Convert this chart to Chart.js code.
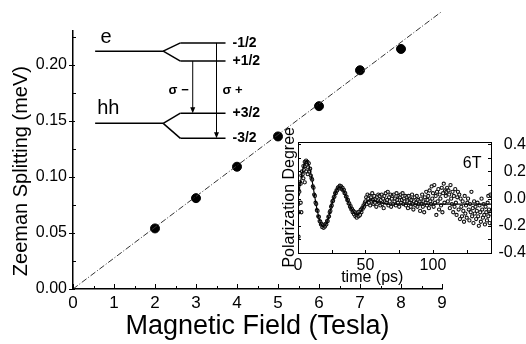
<!DOCTYPE html>
<html>
<head>
<meta charset="utf-8">
<script src="https://cdn.jsdelivr.net/npm/chart.js@4.4.0/dist/chart.umd.min.js"></script>
<style>
  html, body { margin: 0; padding: 0; background: #fff; }
  #wrap { position: relative; width: 526px; height: 344px; }
  #main { position: absolute; left: 0; top: 0; }
  #inset { position: absolute; left: 278px; top: 128px; }
</style>
</head>
<body>
<div id="wrap">
  <canvas id="main" width="526" height="344"></canvas>
  <canvas id="inset" width="248" height="162"></canvas>
</div>
<script>
// main plot: Zeeman splitting vs field
const fieldT = [2, 3, 4, 5, 6, 7, 8];
const splitMeV = [0.054, 0.081, 0.109, 0.136, 0.163, 0.195, 0.214];
const guideField = [0, 9];
const guideSplit = [0, 0.2475];

// inset: polarization degree vs time at 6T
const fitTime = [0, 1, 2, 3, 4, 5, 6, 7, 8, 9, 10, 11, 12, 13, 14, 15, 16, 17, 18, 19,
  20, 21, 22, 23, 24, 25, 26, 27, 28, 29, 30, 31, 32, 33, 34, 35, 36, 37, 38, 39,
  40, 41, 42, 43, 44, 45, 46, 47, 48, 49, 50, 51, 52, 54, 56, 58, 60, 63, 67, 143];
const fitPol = [0.02, 0.07, 0.13, 0.19, 0.235, 0.265, 0.278, 0.272, 0.25, 0.21,
  0.16, 0.1, 0.04, -0.02, -0.075, -0.12, -0.16, -0.185, -0.2, -0.205,
  -0.2, -0.185, -0.16, -0.125, -0.085, -0.045, -0.01, 0.02, 0.045, 0.065,
  0.08, 0.086, 0.085, 0.075, 0.058, 0.035, 0.01, -0.015, -0.04, -0.06,
  -0.08, -0.095, -0.107, -0.114, -0.117, -0.114, -0.105, -0.09, -0.07, -0.05,
  -0.035, -0.02, -0.012, -0.008, -0.012, -0.02, -0.028, -0.035, -0.04, -0.04];

// measured points, one every 0.5 ps from 0 ps
const scatStep = 0.5;
const scatPol = [
  0.03, 0.06, 0.05, 0.12, 0.11, 0.17, 0.2, 0.18, 0.24, 0.21, 0.27, 0.24, 0.28, 0.25, 0.27, 0.23, 0.26, 0.2, 0.22, 0.17,
  0.15, 0.14, 0.09, 0.08, 0.03, 0.02, -0.03, -0.04, -0.085, -0.09, -0.13, -0.135, -0.165, -0.17, -0.19, -0.185, -0.21, -0.195, -0.215, -0.2,
  -0.205, -0.185, -0.19, -0.165, -0.165, -0.135, -0.13, -0.1, -0.09, -0.06, -0.05, -0.02, -0.015, 0.01, 0.015, 0.04, 0.04, 0.06, 0.06, 0.08,
  0.085, 0.075, 0.095, 0.08, 0.09, 0.07, 0.08, 0.06, 0.065, 0.04, 0.04, 0.015, 0.015, -0.01, -0.01, -0.035, -0.035, -0.06, -0.055, -0.08,
  -0.075, -0.1, -0.09, -0.115, -0.1, -0.13, -0.11, -0.14, -0.12, -0.1, -0.13, -0.095, -0.12, -0.08, -0.1, -0.07, -0.075, -0.05, -0.06, -0.03,
  -0.02, 0.01, -0.04, 0.03, 0.0, -0.03, 0.02, -0.05, 0.01, -0.02, 0.04, -0.01, -0.04, 0.02, -0.03, 0.0, -0.06, 0.01, -0.02, 0.03,
  -0.03, 0.02, -0.05, -0.01, 0.03, -0.04, 0.0, -0.07, 0.02, -0.02, 0.04, -0.03, -0.01, 0.05, -0.05, 0.01, -0.02, 0.03, -0.06, 0.0,
  0.02, -0.04, 0.03, -0.02, 0.0, -0.05, 0.04, -0.01, -0.03, 0.02, -0.06, 0.01, 0.03, -0.03, -0.01, 0.04, -0.04, 0.0, -0.02, 0.02,
  -0.05, 0.01, -0.02, -0.07, 0.02, -0.03, 0.0, -0.06, -0.01, 0.03, -0.04, -0.08, -0.02, 0.01, -0.05, -0.03, 0.02, -0.06, -0.01, -0.04,
  -0.02, -0.09, 0.0, -0.04, 0.03, -0.06, -0.02, -0.1, 0.01, -0.03, 0.05, -0.05, -0.01, 0.02, -0.07, 0.06, -0.02, -0.04, 0.09, 0.0,
  0.04, -0.06, 0.1, -0.03, 0.02, -0.12, 0.05, -0.02, 0.07, -0.08, 0.03, 0.0, -0.05, 0.08, -0.1, 0.04, 0.11, -0.03, 0.06, 0.02,
  0.05, 0.08, -0.02, 0.06, 0.03, -0.07, 0.1, 0.0, -0.04, 0.05, -0.1, 0.02, -0.06, 0.07, -0.03, -0.12, 0.01, 0.05, -0.08, 0.03,
  -0.15, 0.0, -0.06, -0.13, -0.02, -0.09, -0.17, 0.02, -0.11, -0.05, -0.14, -0.03, 0.0, -0.08, -0.16, -0.04, -0.1, 0.05, -0.13, -0.07,
  -0.18, -0.02, -0.11, -0.06, -0.15, -0.09, -0.03, -0.13, -0.2, -0.05, -0.1, -0.17, 0.0, -0.08, -0.14, -0.04, -0.12, -0.19, -0.06, -0.1,
  -0.16, -0.03, -0.13, -0.08, -0.18, -0.11, 0.02
];
// stray points off the main band
const strayTime = [0.3, 0.6, 0.4, 2.0, 2.5, 4.0, 5.0, 6.0, 7.2, 141, 142.6];
const strayPol = [-0.04, -0.1, -0.28, -0.03, -0.1, 0.15, 0.12, 0.2, 0.18, 0.02, 0.03];

const FONT = "'Liberation Sans', Arial, sans-serif";
Chart.defaults.font.family = FONT;
Chart.defaults.color = '#000';

// inward / outward tick marks drawn from the scales
const tickPlugin = {
  id: 'inTicks',
  afterDraw(chart, args, opts) {
    const { ctx, chartArea } = chart;
    ctx.save();
    ctx.strokeStyle = '#000';
    ctx.lineWidth = 1;
    (opts.marks || []).forEach(m => {
      const s = chart.scales[m.scale];
      for (let i = 0; ; i++) {
        const v = m.from + i * m.step;
        if (v > s.max + 1e-9) break;
        const p = Math.round(s.getPixelForValue(v)) + 0.5;
        ctx.beginPath();
        if (s.isHorizontal()) {
          const y0 = chartArea.bottom;
          ctx.moveTo(p, y0 + m.a); ctx.lineTo(p, y0 + m.b);
        } else {
          const x0 = m.edge === 'right' ? chartArea.right : chartArea.left;
          ctx.moveTo(x0 + m.a, p); ctx.lineTo(x0 + m.b, p);
        }
        ctx.stroke();
      }
    });
    ctx.restore();
  }
};

// energy level sketch, placed in data units of the main axes
const levelX = { start: 0.54, fork: 2.2, split: 2.62, end: 3.72, label: 3.89, sigMinus: 2.92, sigPlus: 3.5 };
const levelY = { e: 0.212, eM: 0.2194, eP: 0.2032, hh: 0.1477, hP: 0.1567, hM: 0.1343, sig: 0.177, eText: 0.2242, hhText: 0.1605 };

const levelPlugin = {
  id: 'levels',
  afterDatasetsDraw(chart) {
    const { ctx, scales: { x, y } } = chart;
    const X = v => x.getPixelForValue(v);
    const Y = v => y.getPixelForValue(v);
    ctx.save();
    ctx.strokeStyle = '#000';
    ctx.fillStyle = '#000';
    ctx.lineWidth = 1.5;
    const seg = (x1, y1, x2, y2) => {
      ctx.beginPath(); ctx.moveTo(X(x1), Y(y1)); ctx.lineTo(X(x2), Y(y2)); ctx.stroke();
    };
    const fork = (base, up, down) => {
      seg(levelX.start, base, levelX.fork, base);
      seg(levelX.fork, base, levelX.split, up);
      seg(levelX.fork, base, levelX.split, down);
      seg(levelX.split, up, levelX.end, up);
      seg(levelX.split, down, levelX.end, down);
    };
    fork(levelY.e, levelY.eM, levelY.eP);
    fork(levelY.hh, levelY.hP, levelY.hM);

    const arrow = (ax, y1, y2) => {
      ctx.lineWidth = 1;
      const px = X(ax), top = Y(y1), bot = Y(y2);
      ctx.beginPath(); ctx.moveTo(px, top); ctx.lineTo(px, bot - 5); ctx.stroke();
      ctx.beginPath(); ctx.moveTo(px - 2.5, bot - 6); ctx.lineTo(px + 2.5, bot - 6); ctx.lineTo(px, bot); ctx.closePath(); ctx.fill();
    };
    arrow(levelX.sigMinus, levelY.eP, levelY.hP);
    arrow(levelX.sigPlus, levelY.eM, levelY.hM);

    ctx.textBaseline = 'middle';
    ctx.font = '20px ' + FONT;
    ctx.textAlign = 'left';
    ctx.fillText('e', X(0.67), Y(levelY.eText));
    ctx.fillText('hh', X(0.59), Y(levelY.hhText));

    ctx.font = 'bold 13px ' + FONT;
    ctx.textAlign = 'right';
    ctx.fillText('\u03c3 \u2212', X(levelX.sigMinus) - 4, Y(levelY.sig));
    ctx.textAlign = 'left';
    ctx.fillText('\u03c3 +', X(levelX.sigPlus) + 6, Y(levelY.sig));

    ctx.font = 'bold 14px ' + FONT;
    ctx.fillText('-1/2', X(levelX.label), Y(levelY.eM));
    ctx.fillText('+1/2', X(levelX.label), Y(levelY.eP));
    ctx.fillText('+3/2', X(levelX.label), Y(levelY.hP));
    ctx.fillText('-3/2', X(levelX.label), Y(levelY.hM));
    ctx.restore();
  }
};

new Chart(document.getElementById('main'), {
  type: 'scatter',
  data: {
    datasets: [
      {
        data: guideField.map((v, i) => ({ x: v, y: guideSplit[i] })),
        showLine: true, borderColor: '#333', borderWidth: 1, borderDash: [6, 2, 1, 2],
        pointRadius: 0, clip: false
      },
      {
        data: fieldT.map((v, i) => ({ x: v, y: splitMeV[i] })),
        pointRadius: 4.5, backgroundColor: '#000', borderColor: '#000'
      }
    ]
  },
  options: {
    responsive: false,
    animation: false,
    events: [],
    layout: { padding: { top: 31, right: 84, left: 0, bottom: 0 } },
    plugins: {
      legend: { display: false },
      tooltip: { enabled: false },
      inTicks: {
        marks: [
          { scale: 'x', from: 0, step: 1, a: 0, b: -5 },
          { scale: 'x', from: 0.5, step: 1, a: 0, b: -3 },
          { scale: 'y', from: 0, step: 0.05, a: -4, b: 2 },
          { scale: 'y', from: 0.025, step: 0.05, a: 0, b: 3 }
        ]
      }
    },
    scales: {
      x: {
        type: 'linear', min: 0, max: 9,
        grid: { display: false, drawTicks: false },
        border: { color: '#000', width: 1.5 },
        ticks: { stepSize: 1, includeBounds: false, color: '#000', font: { size: 17 }, padding: 4 },
        title: { display: true, text: 'Magnetic Field (Tesla)', color: '#000', font: { size: 27 }, padding: { top: 0, bottom: 1 } },
        afterFit(s) { s.height = 55; }
      },
      y: {
        min: 0, max: 0.23,
        grid: { display: false, drawTicks: false },
        border: { color: '#000', width: 1.5 },
        ticks: { stepSize: 0.05, includeBounds: false, color: '#000', font: { size: 16 }, padding: 6,
          callback: v => v.toFixed(2) },
        title: { display: true, text: 'Zeeman Splitting (meV)    ', color: '#000', font: { size: 20 }, padding: { top: 9, bottom: 0 } },
        afterFit(s) { s.width = 73; }
      }
    }
  },
  plugins: [tickPlugin, levelPlugin]
});

const boxPlugin = {
  id: 'box',
  afterDraw(chart) {
    const { ctx, chartArea: a, scales: { x, y } } = chart;
    ctx.save();
    ctx.strokeStyle = '#000';
    ctx.lineWidth = 1;
    ctx.strokeRect(Math.round(a.left) + 0.5, Math.round(a.top) + 0.5, Math.round(a.width), Math.round(a.height));
    ctx.font = '16px ' + FONT;
    ctx.textAlign = 'center';
    ctx.textBaseline = 'middle';
    ctx.fillStyle = '#000';
    ctx.fillText('6T', x.getPixelForValue(129), y.getPixelForValue(0.26));
    ctx.restore();
  }
};

const scatPoints = scatPol.map((v, i) => ({ x: i * scatStep, y: v }))
  .concat(strayTime.map((t, i) => ({ x: t, y: strayPol[i] })));

new Chart(document.getElementById('inset'), {
  type: 'scatter',
  data: {
    datasets: [
      {
        data: fitTime.map((t, i) => ({ x: t, y: fitPol[i] })),
        showLine: true, borderColor: '#000', borderWidth: 1.2, pointRadius: 0
      },
      {
        data: scatPoints,
        pointRadius: 1.6, borderWidth: 1.1, borderColor: '#111', backgroundColor: 'rgba(255,255,255,0.5)'
      }
    ]
  },
  options: {
    responsive: false,
    animation: false,
    events: [],
    layout: { padding: 0 },
    plugins: {
      legend: { display: false },
      tooltip: { enabled: false },
      inTicks: {
        marks: [
          { scale: 'x', from: 0, step: 25, a: 0, b: -3 },
          { scale: 'y', from: -0.4, step: 0.1, a: 0, b: 3 },
          { scale: 'y2', from: -0.4, step: 0.1, edge: 'right', a: 0, b: -3 }
        ]
      }
    },
    scales: {
      x: {
        type: 'linear', min: 0, max: 143,
        grid: { display: false, drawTicks: false },
        border: { display: false },
        ticks: { stepSize: 50, includeBounds: false, color: '#000', font: { size: 16 }, padding: 3 },
        title: { display: true, text: 'time (ps)          ', color: '#000', font: { size: 16 }, padding: { top: 0, bottom: 3 } },
        afterFit(s) { s.height = 37; }
      },
      y: {
        min: -0.4, max: 0.42,
        grid: { display: false, drawTicks: false },
        border: { display: false },
        ticks: { display: false },
        title: { display: true, text: 'Polarization Degree', color: '#000', font: { size: 16 }, padding: { top: 2, bottom: 0 } },
        afterFit(s) { s.width = 20; }
      },
      y2: {
        position: 'right',
        min: -0.4, max: 0.42,
        grid: { display: false, drawTicks: false },
        border: { display: false },
        ticks: { stepSize: 0.2, includeBounds: false, color: '#000', font: { size: 16 }, padding: 4, crossAlign: 'far',
          callback: v => (Math.abs(v) < 1e-9 ? '0.0' : v.toFixed(1)) },
        afterFit(s) { s.width = 35; }
      }
    }
  },
  plugins: [tickPlugin, boxPlugin]
});
</script>
</body>
</html>
